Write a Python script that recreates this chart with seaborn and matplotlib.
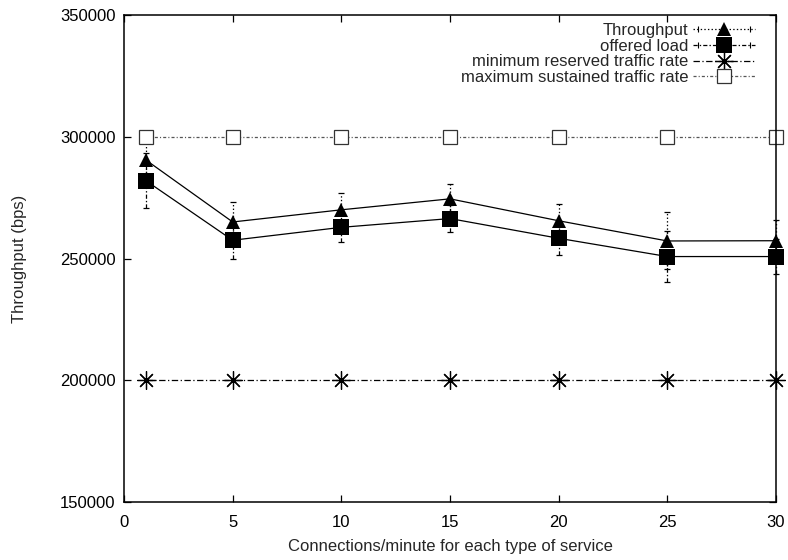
import numpy as np
import pandas as pd
import matplotlib
matplotlib.use("Agg")
import matplotlib.pyplot as plt
import seaborn as sns
from matplotlib.lines import Line2D
from matplotlib.legend_handler import HandlerLine2D, HandlerTuple

# ---- data ----
connections = [1, 5, 10, 15, 20, 25, 30]
throughput = [290500, 265000, 270000, 274500, 265500, 257200, 257300]
throughput_err = [10000, 8400, 6800, 6300, 7000, 11700, 8400]
offered_load = [282000, 257500, 262800, 266400, 258300, 250800, 250800]
offered_err = [11400, 7500, 5900, 5600, 6800, 10300, 7200]
min_reserved = [200000, 200000, 200000, 200000, 200000, 200000, 200000]
max_sustained = [300000, 300000, 300000, 300000, 300000, 300000, 300000]
labels = ["Throughput", "offered load", "minimum reserved traffic rate",
          "maximum sustained traffic rate"]
x_ticks = [0, 5, 10, 15, 20, 25, 30]
y_ticks = [150000, 200000, 250000, 300000, 350000]

sns.set_style("ticks")
plt.rcParams['font.family'] = ['Liberation Sans', 'DejaVu Sans']
plt.rcParams['lines.scale_dashes'] = False
FS = 12

fig = plt.figure(figsize=(7.88, 5.6), dpi=100)
ax = fig.add_axes([124/788, 1 - 502/560, (776-124)/788, (502-15)/560])

lw = 0.9
dot_ls = (0, (1.0, 1.6))
dashdot_ls = (0, (3.0, 1.5, 1.0, 1.5))
min_ls = (0, (4.6, 1.8, 0.9, 1.8))
max_ls = (0, (2.2, 1.5, 0.8, 1.5))
TRI_MS = 10
SQ_MS = 11
AST_MS = 13
OSQ_MS = 10.5

# error bars
eb1 = ax.errorbar(connections, throughput, yerr=throughput_err, fmt='none',
                  ecolor='black', elinewidth=lw, capsize=2.5, capthick=lw,
                  zorder=2, clip_on=False)
for c in eb1[2]:
    c.set_linestyle(dot_ls)
for c in eb1[1]:
    c.set_clip_on(False)
eb2 = ax.errorbar(connections, offered_load, yerr=offered_err, fmt='none',
                  ecolor='black', elinewidth=lw, capsize=2.5, capthick=lw,
                  zorder=2, clip_on=False)
for c in eb2[2]:
    c.set_linestyle(dashdot_ls)
for c in eb2[1]:
    c.set_clip_on(False)

# lines
sns.lineplot(x=connections, y=throughput, ax=ax, color='black', linewidth=lw,
             marker='^', markersize=TRI_MS, markeredgewidth=0, zorder=3,
             clip_on=False)
sns.lineplot(x=connections, y=offered_load, ax=ax, color='black', linewidth=lw,
             marker='s', markersize=SQ_MS, markeredgewidth=0, zorder=3,
             clip_on=False)
sns.lineplot(x=connections, y=min_reserved, ax=ax, color='black', linewidth=lw,
             linestyle=min_ls, marker=(8, 2, 0), markersize=AST_MS,
             markeredgewidth=0.9, markeredgecolor='black', zorder=3,
             clip_on=False)
sns.lineplot(x=connections, y=max_sustained, ax=ax, color='#555555', linewidth=lw,
             linestyle=max_ls, marker='s', markersize=OSQ_MS,
             markerfacecolor='white', markeredgewidth=0.9,
             markeredgecolor='#333333', zorder=3, clip_on=False)

ax.set_xlim(0, 30)
ax.set_ylim(150000, 350000)
ax.set_xticks(x_ticks)
ax.set_yticks(y_ticks)
ax.set_xticklabels([str(t) for t in x_ticks], fontsize=FS)
ax.set_yticklabels([str(t) for t in y_ticks], fontsize=FS)
ax.tick_params(direction='in', length=5, width=0.9, top=True, right=True,
               colors='black')
ax.tick_params(axis='x', pad=9.5)
ax.tick_params(axis='y', pad=6)
for s in ax.spines.values():
    s.set_visible(True)
    s.set_linewidth(1.1)
    s.set_color('black')
    s.set_zorder(4)
ax.set_xlabel("Connections/minute for each type of service", fontsize=FS, labelpad=6)
ax.set_ylabel("Throughput (bps)", fontsize=FS, labelpad=24)

# legend handles
handles = []
hmap = {tuple: HandlerTuple(ndivide=1, pad=0)}

def caps_line():
    cp = Line2D([], [], color='black', linestyle='none', marker='|',
                markersize=4.5, markeredgewidth=0.8)
    hmap[cp] = HandlerLine2D(numpoints=2)
    return cp

ln = Line2D([], [], color='black', linestyle=dot_ls, linewidth=lw, marker='^',
            markersize=TRI_MS, markerfacecolor='black', markeredgewidth=0)
handles.append((ln, caps_line()))
ln = Line2D([], [], color='black', linestyle=dashdot_ls, linewidth=lw, marker='s',
            markersize=SQ_MS, markerfacecolor='black', markeredgewidth=0)
handles.append((ln, caps_line()))
ln = Line2D([], [], color='black', linestyle=min_ls, linewidth=lw,
            marker=(8, 2, 0), markersize=AST_MS, markeredgecolor='black',
            markeredgewidth=0.9)
handles.append(ln)
ln = Line2D([], [], color='#555555', linestyle=max_ls, linewidth=lw, marker='s',
            markersize=OSQ_MS, markerfacecolor='white', markeredgecolor='#333333',
            markeredgewidth=0.9)
handles.append(ln)

ax.legend(handles, labels, handler_map=hmap, loc='upper right',
          bbox_to_anchor=(0.968, 0.984), frameon=False, markerfirst=False,
          fontsize=FS, handlelength=3.7, handletextpad=0.3, labelspacing=0.05,
          borderpad=0, borderaxespad=0, numpoints=1)

fig.savefig("out.png", dpi=100)
